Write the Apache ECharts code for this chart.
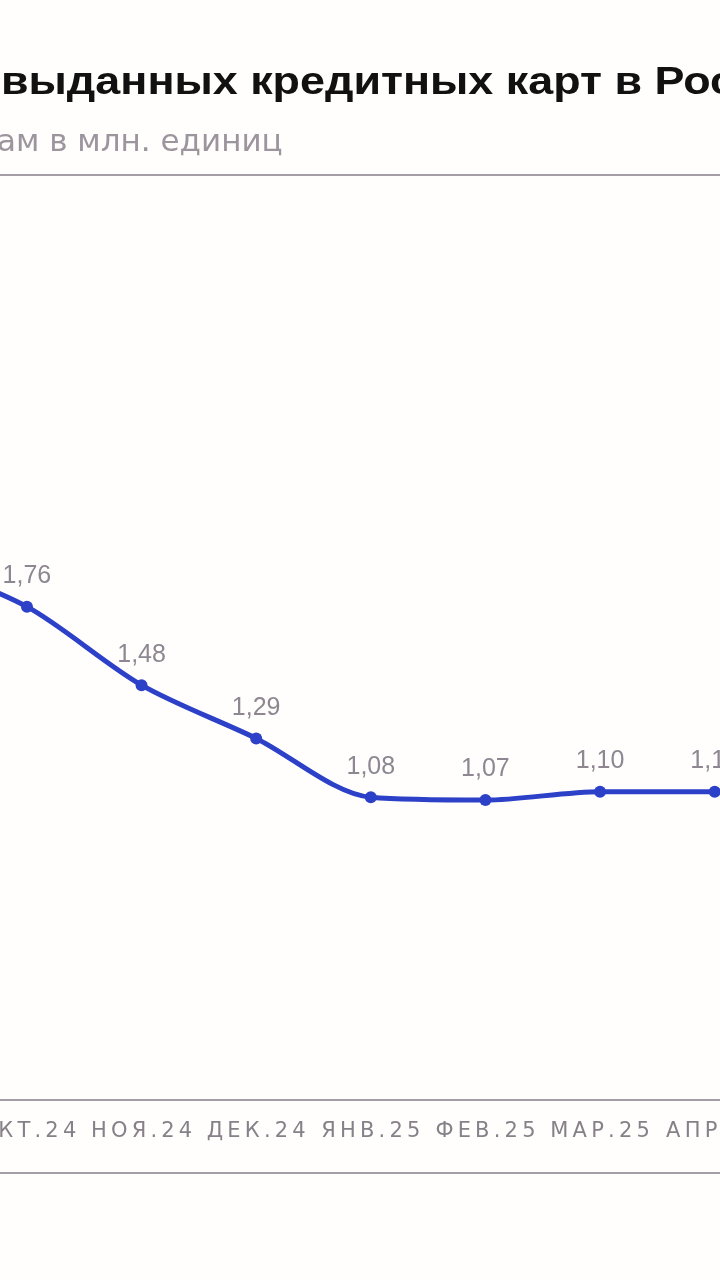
<!DOCTYPE html>
<html>
<head>
<meta charset="utf-8">
<script src="https://cdn.jsdelivr.net/npm/echarts@6/dist/echarts.min.js"></script>
<style>
html,body{margin:0;padding:0;background:#fffefc;}
#chart{width:720px;height:1280px;}
</style>
</head>
<body>
<div id="chart"></div>
<script>
const titleText = 'выданных кредитных карт в России';
const subtitleText = 'ам в млн. единиц';
const categories = ['СЕН.24','ОКТ.24','НОЯ.24','ДЕК.24','ЯНВ.25','ФЕВ.25','МАР.25','АПР.25'];
const values = [1.93, 1.76, 1.48, 1.29, 1.08, 1.07, 1.10, 1.10];

const chart = echarts.init(document.getElementById('chart'), null, {renderer:'canvas'});
const lineColor = '#a59da6';
const textGray = '#8e8791';
const blue = '#2c40c8';

chart.setOption({
  backgroundColor: '#fffefc',
  animation: false,
  graphic: [
    {type:'text', left:1, top:64, scaleX:1.15, originX:0, style:{text:titleText, fill:'#111', font:'bold 39px "Liberation Sans", Arial, sans-serif'}},
    {type:'text', left:-3, top:127, style:{text:subtitleText, fill:'#9d959e', font:'31px "DejaVu Sans", sans-serif'}},
    {type:'rect', left:0, top:174, shape:{width:720, height:2}, style:{fill:lineColor}},
    {type:'rect', left:0, top:1172, shape:{width:720, height:2}, style:{fill:lineColor}}
  ],
  grid: {left:-145, width:917, top:175, bottom:180, containLabel:false, outerBoundsMode:'none'},
  xAxis: {
    type:'category',
    data: categories,
    boundaryGap: true,
    axisLine: {show:true, lineStyle:{color:lineColor, width:2}},
    axisTick: {show:false},
    axisLabel: {
      color: '#878089',
      fontFamily: '"DejaVu Sans", sans-serif',
      fontSize: 21,
      margin: 21,
      interval: 0,
      formatter: v => v.split('').join('\u2009')
    },
    splitLine: {show:false}
  },
  yAxis: {
    type:'value', min:0, max:3.3,
    show:false,
    splitLine:{show:false}
  },
  series: [{
    type:'line',
    data: values,
    smooth: 0.3,
    symbol:'circle',
    symbolSize: 12,
    lineStyle:{color:blue, width:5},
    itemStyle:{color:blue},
    label:{
      show:true,
      position:'top',
      distance: 12,
      color: textGray,
      fontFamily: '"Liberation Sans", Arial, sans-serif',
      fontSize: 25,
      formatter: p => p.value.toFixed(2).replace('.', ',')
    }
  }]
});
</script>
</body>
</html>
